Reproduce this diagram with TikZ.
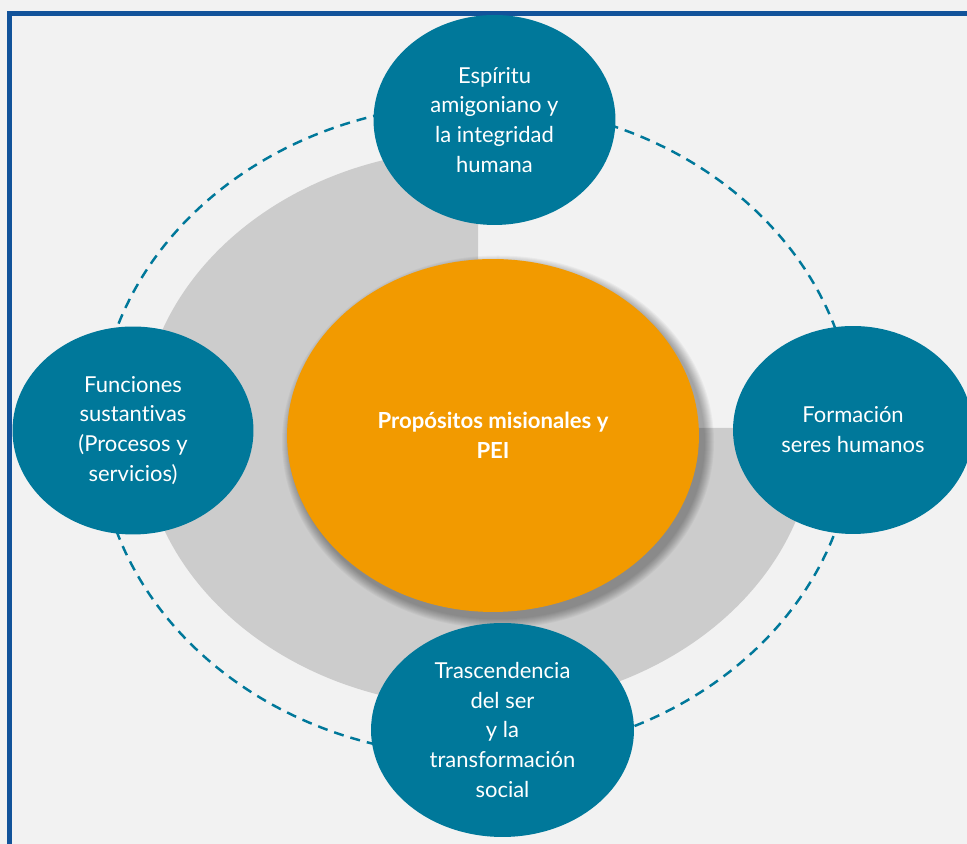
\documentclass[tikz,border=0pt]{standalone}
\usepackage{fontspec}
\setmainfont{Lato}[Ligatures = NoCommon]
\usetikzlibrary{shapes.geometric}
\definecolor{bgGray}{HTML}{F2F2F2}
\definecolor{frameBlue}{HTML}{12539A}
\definecolor{ringGray}{HTML}{CCCCCC}
\definecolor{tealBlue}{HTML}{00789A}
\definecolor{peiOrange}{HTML}{F29A00}

\begin{document}
\begin{tikzpicture}[x = 0.02cm, y = 0.02cm,
	pillar/.style = {ellipse, fill = tealBlue, text = white, align = center, inner sep = 0pt, font = \fontsize{12.5}{17}\selectfont},
	core/.style = {ellipse, fill = peiOrange, text = white, align = center, inner sep = 0pt, font = \bfseries\fontsize{12.6}{17}\selectfont}]
\useasboundingbox (0,0) rectangle (967,844);
% Background
\fill[bgGray] (0,0) rectangle (967,844);
% Frame
\draw[frameBlue, line width = 2.6pt] (9.5,0) -- (9.5,830.5) -- (967,830.5);
% Three quarter disc
\fill[ringGray] (478,416) -- (478,695) arc[start angle = 90, end angle = 360, x radius = 337, y radius = 279] -- cycle;
% Dashed ring
\draw[tealBlue, line width = 1.4pt, dash pattern = on 5.7pt off 4pt] (476,414) ellipse [x radius = 378, y radius = 326];
% Shadow of the centre
\foreach \i in {1,...,10}
	\fill[black, opacity = 0.035] (498,402) ellipse [x radius = 206 + 11 - \i, y radius = 176.5 + 11 - \i];
% Centre
\node[core, minimum width = 8.24cm, minimum height = 7.06cm] (pei) at (493,408.5) {Propósitos misionales y\\PEI};
% Pillars
\node[pillar, minimum width = 4.84cm, minimum height = 4.2cm] (espiritu) at (494.5,724) {Espíritu\\amigoniano y\\la integridad\\humana};
\node[pillar, minimum width = 4.82cm, minimum height = 4.16cm] (funciones) at (133,413.5) {Funciones\\sustantivas\\(Procesos y\\servicios)};
\node[pillar, minimum width = 4.8cm, minimum height = 4.16cm] (formacion) at (853,414) {Formación\\seres humanos};
\node[pillar, minimum width = 5.26cm, minimum height = 4.28cm] (trascendencia) at (502.5,114) {Trascendencia\\del ser\\y la\\transformación\\social};
\end{tikzpicture}
\end{document}
